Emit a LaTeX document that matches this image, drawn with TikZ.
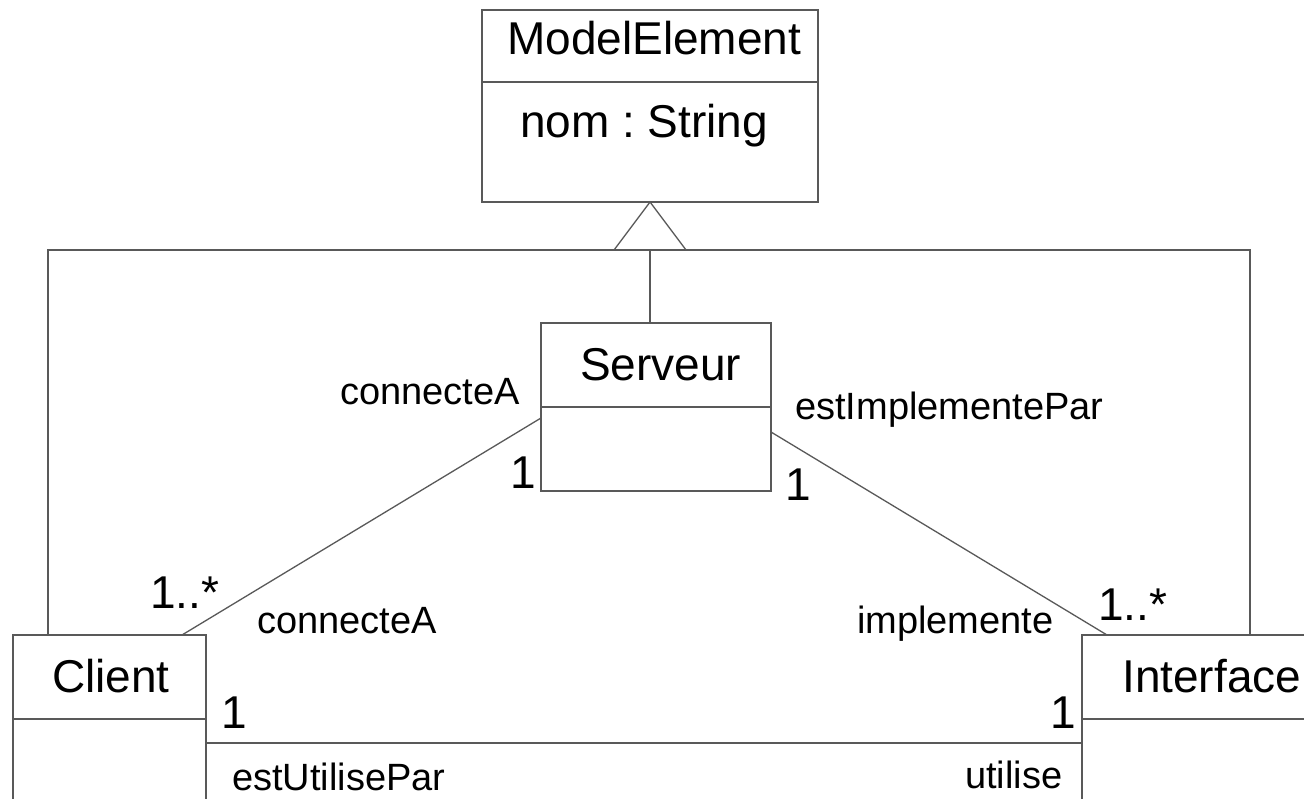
\documentclass[tikz,border=0pt]{standalone}
\usepackage{fontspec}
\setmainfont{Liberation Sans}
\usepackage{tikz}
\usetikzlibrary{calc}

\tikzset{
    classbox/.style={draw=black!65, line width=1.3pt, inner sep=0pt, outer sep=0pt, anchor=north west},
    bigtxt/.style={font=\fontsize{46}{50}\selectfont, inner sep=0pt, anchor=base west},
    smalltxt/.style={font=\fontsize{38}{42}\selectfont, inner sep=0pt, anchor=base west},
    assoc/.style={draw=black!65, line width=1.3pt}
}

\begin{document}
\begin{tikzpicture}[x=1pt, y=-1pt]
        \clip (0,0) rectangle (1304,799);
        \fill[white] (0,0) rectangle (1304,799);
        % classes
        \node[classbox, minimum width=336pt, minimum height=72pt] (meHead) at (482,10) {};
        \node[classbox, minimum width=336pt, minimum height=120pt] (meBody) at (482,82) {};
        \node[classbox, minimum width=230pt, minimum height=84pt] (srvHead) at (541,323) {};
        \node[classbox, minimum width=230pt, minimum height=84pt] (srvBody) at (541,407) {};
        \node[classbox, minimum width=193pt, minimum height=84pt] (cliHead) at (13,635) {};
        \node[classbox, minimum width=193pt, minimum height=120pt] (cliBody) at (13,719) {};
        \node[classbox, minimum width=260pt, minimum height=84pt] (itfHead) at (1082,635) {};
        \node[classbox, minimum width=260pt, minimum height=120pt] (itfBody) at (1082,719) {};
        \node[bigtxt] (meName) at (507,55) {ModelElement};
        \node[bigtxt] (meAttr) at (520,138) {nom :\ String};
        \node[bigtxt] (srvName) at (580,381) {Serveur};
        \node[bigtxt] (cliName) at (52,692) {Client};
        \node[bigtxt] (itfName) at (1122,692) {Interface};
        % generalisation
        \draw[assoc] (meBody.south) -- ++(-36,48) -- ++(72,0) -- cycle;
        \coordinate (genBase) at ([yshift=-48pt]meBody.south);
        \draw[assoc] (genBase) -- (genBase |- srvHead.north);
        \draw[assoc] ([xshift=35pt]cliHead.north west) |- (genBase) -| ([xshift=168pt]itfHead.north west);
        % associations
        \draw[assoc] ([xshift=169pt]cliHead.north west) -- ([yshift=-11pt]srvBody.north west);
        \draw[assoc] ([yshift=-25pt]srvBody.north east) -- ([xshift=25pt]itfHead.north west);
        \coordinate (cuLeft) at ([yshift=-24pt]cliBody.north east);
        \draw[assoc] (cuLeft) -- (cuLeft -| itfBody.west);
        % roles and multiplicities
        \node[smalltxt] (roleSrvCli) at (340,405) {connecteA};
        \node[smalltxt] (roleSrvItf) at (795,420) {estImplementePar};
        \node[smalltxt] (roleCliSrv) at (257,633) {connecteA};
        \node[smalltxt] (roleItfSrv) at (857,633) {implemente};
        \node[smalltxt] (roleCliItf) at (232,790) {estUtilisePar};
        \node[smalltxt] (roleItfCli) at (965,788) {utilise};
        \node[bigtxt] (multSrvL) at (510,488) {1};
        \node[bigtxt] (multSrvR) at (785,500) {1};
        \node[bigtxt] (multCliS) at (150,608) {1..*};
        \node[bigtxt] (multItfS) at (1098,620) {1..*};
        \node[bigtxt] (multCliI) at (221,728) {1};
        \node[bigtxt] (multItfC) at (1050,728) {1};
\end{tikzpicture}
\end{document}
